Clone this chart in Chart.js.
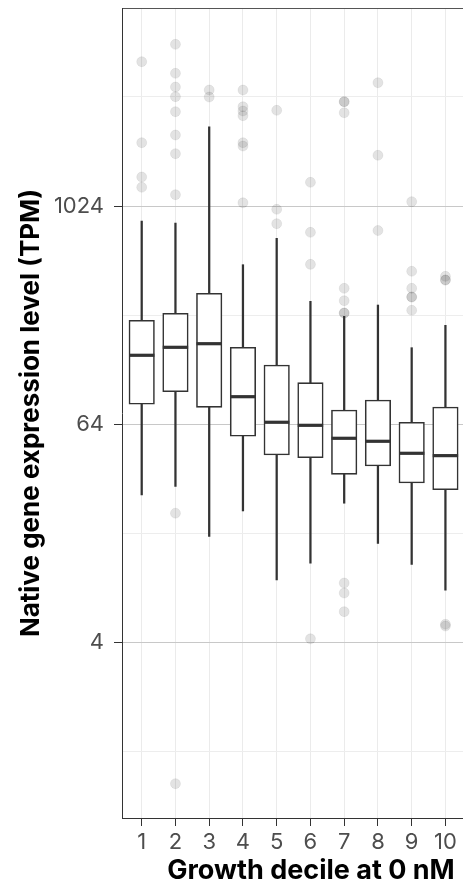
<!DOCTYPE html>
<html>
<head>
<meta charset="utf-8">
<script src="https://cdn.jsdelivr.net/npm/chart.js@4.4.1/dist/chart.umd.min.js"></script>
<style>
  html, body { margin: 0; padding: 0; background: #fff; overflow: hidden; }
  #wrap { width: 500px; height: 888px; }
</style>
</head>
<body>
<div id="wrap"><canvas id="boxChart"></canvas></div>
<script>
// Boxplot stats per growth decile (TPM)
const deciles = [1, 2, 3, 4, 5, 6, 7, 8, 9, 10];
const whiskerLow = [26.1, 29.1, 15.4, 21.3, 8.87, 10.96, 23.5, 14.1, 10.8, 7.8];
const q1 = [82.6, 96.9, 79.4, 55.0, 43.4, 41.9, 33.9, 37.7, 30.4, 27.9];
const medians = [153.8, 170.2, 178.2, 90.9, 65.7, 63.2, 53.6, 51.6, 44.3, 43.0];
const q3 = [239.9, 262.1, 337.8, 170.2, 135.9, 108.6, 76.7, 87.2, 65.7, 79.7];
const whiskerHigh = [846.5, 825.5, 2803, 486, 680, 305, 252.3, 291.2, 169.4, 225];
const outliers = [
  [6400, 2288, 1480, 1299],
  [7983, 5523, 4641, 4104, 3392, 2523, 1990, 1182, 20.7, 0.667],
  [4467, 4087],
  [4467, 3613, 3422, 3223, 2288, 2193, 1067],
  [3452, 982, 818],
  [1384, 733, 488, 4.2],
  [3851, 3851, 3348, 360, 307.6, 263, 263, 8.53, 7.51, 5.93],
  [4902, 1950, 750],
  [1082, 447, 360, 322.4, 322.4, 272.3],
  [419, 400, 400, 5.05, 4.94]
];
const yTicks = [0, 2, 4, 6, 8, 10, 12];   // log2 positions of gridlines
const yLabelTicks = [2, 6, 10];          // labelled: 4, 64, 1024

const lg = Math.log2;

const outlierPts = [];
outliers.forEach(function(arr, i) {
  arr.forEach(function(v) { outlierPts.push({x: deciles[i], y: lg(v)}); });
});

const data = {
  datasets: [
    {
      type: 'scatter',
      data: outlierPts,
      pointRadius: 5,
      backgroundColor: 'rgba(0,0,0,0.11)',
      borderColor: 'rgba(0,0,0,0.06)',
      borderWidth: 1,
      order: 4
    },
    {
      type: 'bar',
      data: deciles.map((d, i) => ({x: d, y: [lg(whiskerLow[i]), lg(whiskerHigh[i])]})),
      backgroundColor: '#333333',
      borderWidth: 0,
      barThickness: 1.6,
      grouped: false,
      order: 3
    },
    {
      type: 'bar',
      data: deciles.map((d, i) => ({x: d, y: [lg(q1[i]), lg(q3[i])]})),
      backgroundColor: '#ffffff',
      borderColor: '#333333',
      borderWidth: 1.6,
      borderSkipped: false,
      barThickness: 25.5,
      grouped: false,
      order: 2
    },
    {
      type: 'scatter',
      data: deciles.map((d, i) => ({x: d, y: lg(medians[i])})),
      pointStyle: 'line',
      pointRadius: 12.7,
      borderColor: '#333333',
      borderWidth: 3.2,
      order: 1
    }
  ]
};

const tickFont = {family: 'Inter', size: 22};

const config = {
  type: 'bar',
  data: data,
  options: {
    responsive: true,
    maintainAspectRatio: false,
    animation: false,
    events: [],
    layout: {padding: 0, autoPadding: false},
    plugins: {legend: {display: false}, tooltip: {enabled: false}},
    scales: {
      x: {
        type: 'linear',
        offset: false,
        min: 0.416,
        max: 11.617,
        afterBuildTicks: s => { s.ticks = deciles.map(v => ({value: v})); },
        afterFit: s => { s.height = 70; s.paddingLeft = 0; s.paddingRight = 0; },
        grid: {offset: false, color: '#ebebeb', lineWidth: 1, tickColor: '#333333', tickLength: 8},
        border: {color: '#333333', width: 1},
        ticks: {font: tickFont, color: '#4d4d4d', padding: 3, maxRotation: 0,
                callback: v => String(v)},
        title: {display: true, text: 'Growth decile at 0 nM',
                font: {family: 'Inter', size: 27, weight: 'bold'},
                color: '#000000', padding: {top: 0, bottom: 1}}
      },
      x2: {
        type: 'linear',
        position: 'top',
        offset: false,
        afterFit: s => { s.height = 8; },
        grid: {display: false, offset: false},
        ticks: {display: false},
        border: {color: '#555555', width: 1}
      },
      y: {
        type: 'linear',
        min: -1.213,
        max: 13.628,
        afterBuildTicks: s => { s.ticks = yTicks.map(v => ({value: v})); },
        afterFit: s => { s.width = 122; s.paddingTop = 0; s.paddingBottom = 0; },
        grid: {
          color: c => yLabelTicks.includes(c.tick && c.tick.value) ? '#c8c8c8' : '#ededed',
          lineWidth: 1,
          tickColor: c => yLabelTicks.includes(c.tick && c.tick.value) ? '#333333' : 'rgba(0,0,0,0)',
          tickLength: 8
        },
        border: {color: '#333333', width: 1},
        ticks: {font: tickFont, color: '#4d4d4d', padding: 10,
                callback: v => yLabelTicks.includes(v) ? String(Math.pow(2, v)) : ''},
        title: {display: true, text: 'Native gene expression level (TPM)',
                font: {family: 'Inter', size: 26, weight: 'bold'},
                color: '#000000', padding: {top: 16, bottom: 0}}
      }
    }
  }
};

var box_area = document.getElementById('boxChart');
var myBoxChart = new Chart(box_area, config);
</script>
</body>
</html>
